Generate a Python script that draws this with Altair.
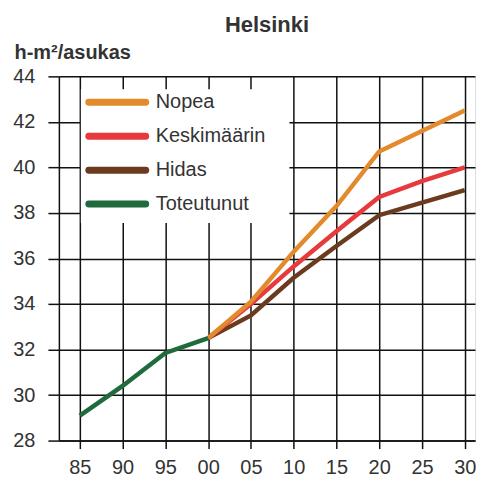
import altair as alt
import pandas as pd

years_hist = [1985, 1990, 1995, 2000]
toteutunut = [29.1, 30.4, 31.85, 32.5]

years_proj = [2000, 2005, 2010, 2015, 2020, 2025, 2030]
nopea = [32.5, 34.1, 36.3, 38.3, 40.7, 41.6, 42.5]
keskimaarin = [32.5, 34.0, 35.65, 37.2, 38.7, 39.4, 40.0]
hidas = [32.5, 33.5, 35.15, 36.55, 37.9, 38.45, 39.0]

series_names = ["Nopea", "Keskimäärin", "Hidas", "Toteutunut"]
series_colors = ["#E38B2C", "#E63A3C", "#6B3B1F", "#1F6B3D"]
x_ticks = [1985, 1990, 1995, 2000, 2005, 2010, 2015, 2020, 2025, 2030]
y_ticks = [28, 30, 32, 34, 36, 38, 40, 42, 44]

rows = []
for name, yrs, vals in [
    ("Hidas", years_proj, hidas),
    ("Keskimäärin", years_proj, keskimaarin),
    ("Nopea", years_proj, nopea),
    ("Toteutunut", years_hist, toteutunut),
]:
    for yr, v in zip(yrs, vals):
        rows.append({"sarja": name, "vuosi": yr, "arvo": v})
df = pd.DataFrame(rows)
legend_df = pd.DataFrame({"sarja": series_names})

FONT = "Liberation Sans"
INK = "#111111"
TXT = "#333333"

color_scale = alt.Scale(domain=series_names, range=series_colors)

lines = (
    alt.Chart(df)
    .mark_line(strokeWidth=4.5)
    .encode(
        x=alt.X(
            "vuosi:Q",
            scale=alt.Scale(domain=[1982.55, 2031.2], nice=False, zero=False),
            axis=alt.Axis(
                values=x_ticks,
                labelExpr="substring(toString(datum.value), 2)",
                title=None,
                grid=True,
                gridColor=INK,
                gridWidth=1.5,
                tickColor=INK,
                tickWidth=1.5,
                tickSize=8,
                domainColor=INK,
                domainWidth=1.5,
                labelFontSize=20,
                labelColor=TXT,
                labelFont=FONT,
                labelPadding=9,
            ),
        ),
        y=alt.Y(
            "arvo:Q",
            scale=alt.Scale(domain=[28, 44], nice=False, zero=False),
            axis=alt.Axis(
                values=y_ticks,
                title="h-m²/asukas",
                titleAngle=0,
                titleAlign="left",
                titleBaseline="alphabetic",
                titleX=-45,
                titleY=-18,
                titleFontSize=20,
                titleFontWeight="bold",
                titleColor=TXT,
                titleFont=FONT,
                grid=True,
                gridColor=INK,
                gridWidth=1.5,
                tickColor=INK,
                tickWidth=1.5,
                tickSize=11,
                domainColor=INK,
                domainWidth=1.5,
                labelFontSize=20,
                labelColor=TXT,
                labelFont=FONT,
                labelPadding=13,
            ),
        ),
        color=alt.Color("sarja:N", scale=color_scale, legend=None),
        order=alt.Order("vuosi:Q"),
    )
)

legend_box = (
    alt.Chart(pd.DataFrame({"a": [0]}))
    .mark_rect(fill="white", stroke=None)
    .encode(
        x=alt.value(22), x2=alt.value(231),
        y=alt.value(13), y2=alt.value(147),
    )
)

legend_y = alt.Y(
    "sarja:N",
    scale=alt.Scale(type="point", domain=series_names, range=[26, 128], padding=0),
    axis=None,
)

legend_sym = (
    alt.Chart(legend_df)
    .mark_rule(strokeWidth=7, strokeCap="round")
    .encode(
        x=alt.value(30), x2=alt.value(87),
        y=legend_y,
        color=alt.Color("sarja:N", scale=color_scale, legend=None),
    )
)

legend_txt = (
    alt.Chart(legend_df)
    .mark_text(align="left", baseline="middle", fontSize=20, font=FONT, color=TXT)
    .encode(
        x=alt.value(97),
        y=legend_y,
        text="sarja:N",
    )
)

chart = (
    alt.layer(legend_box, lines, legend_sym, legend_txt)
    .resolve_scale(y="independent")
    .properties(
        width=417,
        height=365,
        title=alt.TitleParams(
            "Helsinki",
            fontSize=22,
            fontWeight="bold",
            color=TXT,
            font=FONT,
            anchor="middle",
            offset=5,
        ),
        padding={"left": 4, "top": 6, "right": 0, "bottom": 0},
    )
    .configure_view(stroke=None)
    .configure(background="white")
)

chart.save("out.html", embed_options={"renderer": "svg", "actions": False})
